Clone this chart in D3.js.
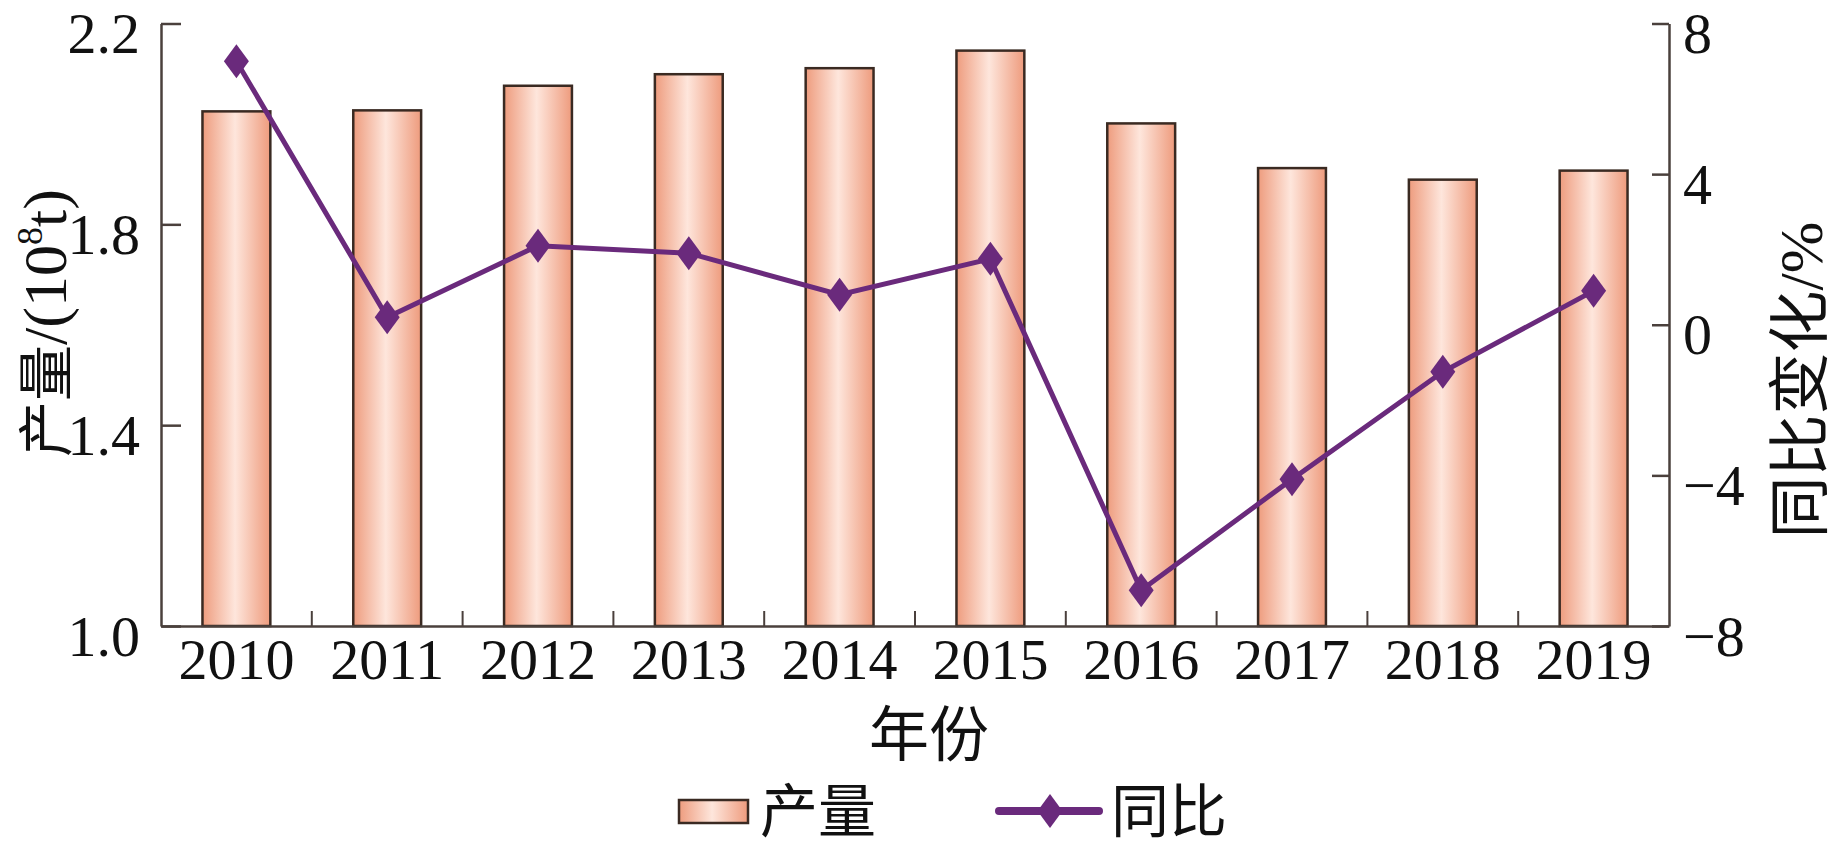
<!DOCTYPE html>
<html><head><meta charset="utf-8">
<script src="https://cdn.jsdelivr.net/npm/d3@7"></script>
<style>
html,body{margin:0;padding:0;background:#fff;}
svg{display:block;}
</style></head>
<body>
<svg id="chart" width="1843" height="856"></svg>
<script>
const years = ["2010","2011","2012","2013","2014","2015","2016","2017","2018","2019"];
const output = [2.025, 2.027, 2.076, 2.099, 2.111, 2.146, 2.001, 1.912, 1.889, 1.907];
const yoy = [7.0, 0.2, 2.1, 1.9, 0.8, 1.75, -7.05, -4.1, -1.25, 0.9];
const leftTicks = [1.0, 1.4, 1.8, 2.2];
const rightTicks = [-8, -4, 0, 4, 8];

const W = 1843, H = 856;
const m = {left:161, right:1669, top:23.5, bottom:626};
const svg = d3.select("#chart");
const serif = "'Liberation Serif','Times New Roman',serif";
const cjk = "'Noto Sans CJK SC','Noto Sans CJK JP',sans-serif";
const axisColor = "#4a403c";
const purple = "#6a2a7c";

const defs = svg.append("defs");
const grad = defs.append("linearGradient").attr("id","barGrad").attr("x1","0%").attr("x2","100%").attr("y1","0%").attr("y2","0%");
grad.append("stop").attr("offset","0%").attr("stop-color","#ee9c7e");
grad.append("stop").attr("offset","48%").attr("stop-color","#fee6dc");
grad.append("stop").attr("offset","100%").attr("stop-color","#ee9b7d");

const x = d3.scaleBand().domain(years).range([m.left, m.right]).paddingInner(0.55).paddingOuter(0.275);
const yL = d3.scaleLinear().domain([1.0, 2.2]).range([m.bottom, m.top]);
const yR = d3.scaleLinear().domain([-8, 8]).range([m.bottom, m.top]);

// bars
svg.append("g").selectAll("rect").data(years).join("rect")
  .attr("x", d => x(d))
  .attr("y", (d,i) => yL(output[i]))
  .attr("width", x.bandwidth())
  .attr("height", (d,i) => yL(1.0) - yL(output[i]))
  .attr("fill","url(#barGrad)")
  .attr("stroke","#3a2a22").attr("stroke-width",2.5);

// left axis
const gL = svg.append("g").attr("transform",`translate(${m.left},0)`)
  .call(d3.axisLeft(yL).tickValues(leftTicks).tickFormat(d3.format(".1f")).tickSize(-20).tickSizeOuter(0).tickPadding(21));
// right axis
const gR = svg.append("g").attr("transform",`translate(${m.right},0)`)
  .call(d3.axisRight(yR).tickValues(rightTicks).tickFormat(d => d < 0 ? "\u2212" + Math.abs(d) : d).tickSize(-17).tickSizeOuter(0).tickPadding(14));
// bottom axis
const gB = svg.append("g").attr("transform",`translate(0,${m.bottom})`)
  .call(d3.axisBottom(x).tickSize(0).tickPadding(12));
// boundary ticks
const bounds = d3.range(1, years.length).map(k => m.left + x.step()*k);
svg.append("g").selectAll("line").data(bounds).join("line")
  .attr("x1", d => d).attr("x2", d => d)
  .attr("y1", m.bottom).attr("y2", m.bottom - 15)
  .attr("stroke", axisColor).attr("stroke-width", 2);

[gL, gR, gB].forEach(g => {
  g.select(".domain").attr("stroke", axisColor).attr("stroke-width", 2.5);
  g.selectAll(".tick line").attr("stroke", axisColor).attr("stroke-width", 2.5);
  g.selectAll("text").attr("font-family", serif).attr("font-size", 58).attr("fill","#111");
});
gL.selectAll(".tick text").attr("dy", "0.5em");
gR.selectAll(".tick text").attr("dy", "0.5em");

// line
const line = d3.line().x((d,i) => x(years[i]) + x.bandwidth()/2).y(d => yR(d));
svg.append("path").datum(yoy).attr("d", line).attr("fill","none").attr("stroke",purple).attr("stroke-width",5);
const diamond = "M0,-17L12.5,0L0,17L-12.5,0Z";
svg.append("g").selectAll("path").data(yoy).join("path")
  .attr("d", diamond)
  .attr("transform",(d,i) => `translate(${x(years[i]) + x.bandwidth()/2},${yR(d)})`)
  .attr("fill", purple);

// axis titles
const lt = svg.append("text").attr("transform","translate(66,323) rotate(-90)")
  .attr("text-anchor","middle").attr("font-size",62).attr("fill","#111");
lt.append("tspan").attr("font-family",cjk).attr("font-size",56).text("产量");
lt.append("tspan").attr("font-family",serif).text("/(10");
lt.append("tspan").attr("font-family",serif).attr("font-size",36).attr("dy",-24).text("8");
lt.append("tspan").attr("font-family",serif).attr("dy",24).text("t)");

const rt = svg.append("text").attr("transform","translate(1822,380) rotate(-90)")
  .attr("text-anchor","middle").attr("font-size",62).attr("fill","#111");
rt.append("tspan").attr("font-family",cjk).text("同比变化");
rt.append("tspan").attr("font-family",serif).text("/%");

svg.append("text").attr("x",929).attr("y",756).attr("text-anchor","middle")
  .attr("font-family",cjk).attr("font-size",60).attr("fill","#111").text("年份");

// legend
const lg = svg.append("g");
lg.append("rect").attr("x",679).attr("y",800).attr("width",69).attr("height",23)
  .attr("fill","url(#barGrad)").attr("stroke","#3a2a22").attr("stroke-width",2.5);
lg.append("text").attr("x",760).attr("y",832).attr("font-family",cjk).attr("font-size",58).attr("fill","#111").text("产量");
lg.append("line").attr("x1",999).attr("x2",1099).attr("y1",811).attr("y2",811).attr("stroke",purple).attr("stroke-width",8).attr("stroke-linecap","round");
lg.append("path").attr("d",diamond).attr("transform","translate(1050,811)").attr("fill",purple);
lg.append("text").attr("x",1111).attr("y",832).attr("font-family",cjk).attr("font-size",58).attr("fill","#111").text("同比");
</script>
</body></html>
